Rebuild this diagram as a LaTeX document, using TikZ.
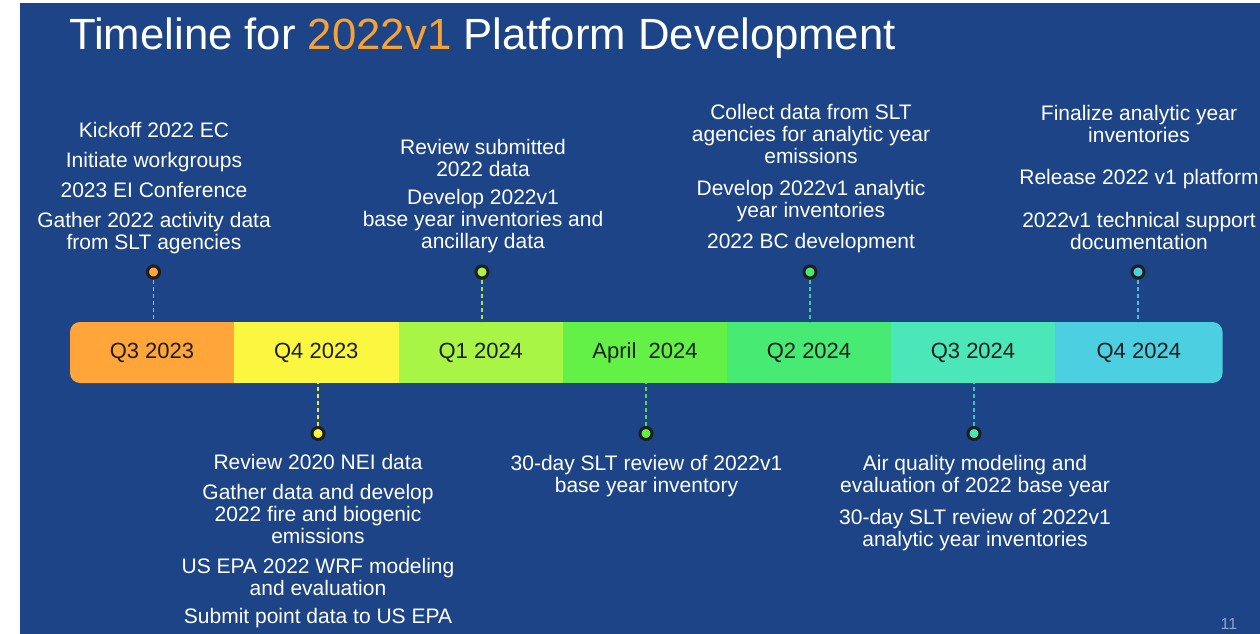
\documentclass[tikz,border=0pt]{standalone}
\usepackage{fontspec}
\setmainfont{Liberation Sans}
\definecolor{bg}{HTML}{1D4486}
\definecolor{torange}{HTML}{F7A234}
\definecolor{dark}{HTML}{1E1E1E}
\definecolor{cA}{HTML}{FFA53A}
\definecolor{cB}{HTML}{FBF740}
\definecolor{cC}{HTML}{A9F545}
\definecolor{cD}{HTML}{63F047}
\definecolor{cE}{HTML}{47EB73}
\definecolor{cF}{HTML}{4BE7B8}
\definecolor{cG}{HTML}{4BCFE1}
\definecolor{dA}{HTML}{F4A23C}
\definecolor{dB}{HTML}{EDE93C}
\definecolor{dC}{HTML}{A3E642}
\definecolor{dD}{HTML}{58D65A}
\definecolor{dE}{HTML}{3CC9A0}
\definecolor{dF}{HTML}{40C0C0}
\definecolor{dG}{HTML}{45C0D8}
\definecolor{pnum}{HTML}{8FA2C4}
\tikzset{
  seglabel/.style={minimum width=164.6pt, minimum height=61pt, inner sep=0pt,
    text=dark, font=\fontsize{22}{24}\selectfont},
  marker/.style={circle, draw=dark, line width=3pt, minimum size=12pt, inner sep=0pt},
  conn/.style={dashed, dash pattern=on 4pt off 3pt, line width=1.3pt},
  item/.style={text=white, align=center, inner sep=0pt, anchor=base,
    font=\fontsize{21}{22}\selectfont}
}
\begin{document}
\begin{tikzpicture}[x=1pt,y=-1pt]
\useasboundingbox (0,0) rectangle (1260,634);
\fill[white] (0,0) rectangle (1260,634);
\fill[bg] (20,3) rectangle (1260,634);

\node[anchor=base west, inner sep=0pt, text=white,
  font=\fontsize{43.7}{50}\selectfont] (title) at (69,49)
  {Timeline for \textcolor{torange}{2022v1} Platform Development};

% bar fills
\fill[cA, rounded corners=10pt] (70,322) rectangle (250,383);
\fill[cB] (234,322) rectangle (398.6,383);
\fill[cC] (398.6,322) rectangle (563,383);
\fill[cD] (563,322) rectangle (727,383);
\fill[cE] (727,322) rectangle (891,383);
\fill[cG, rounded corners=10pt] (1040,322) rectangle (1222.5,383);
\fill[cF] (891,322) rectangle (1055,383);

% segment labels
\node[seglabel] (s1) at (152,352.5) {Q3 2023};
\node[seglabel] (s2) at (316.3,352.5) {Q4 2023};
\node[seglabel] (s3) at (480.8,352.5) {Q1 2024};
\node[seglabel] (s4) at (645,352.5) {April\ \ 2024};
\node[seglabel] (s5) at (809,352.5) {Q2 2024};
\node[seglabel] (s6) at (973,352.5) {Q3 2024};
\node[seglabel] (s7) at (1138.8,352.5) {Q4 2024};

% markers
\node[marker, fill=cA] (m1) at (153.5,272) {};
\node[marker, fill=cB] (m2) at (318,433.5) {};
\node[marker, fill=cC] (m3) at (482,272) {};
\node[marker, fill=cD] (m4) at (646,433.5) {};
\node[marker, fill=cE] (m5) at (810,272) {};
\node[marker, fill=cF] (m6) at (974,433.5) {};
\node[marker, fill=cG] (m7) at (1138,272) {};

% connectors
\draw[conn, dA] (m1) -- (m1 |- s1.north);
\draw[conn, dB] (m2) -- (m2 |- s2.south);
\draw[conn, dC] (m3) -- (m3 |- s3.north);
\draw[conn, dD] (m4) -- (m4 |- s4.south);
\draw[conn, dE] (m5) -- (m5 |- s5.north);
\draw[conn, dF] (m6) -- (m6 |- s6.south);
\draw[conn, dG] (m7) -- (m7 |- s7.north);

% texts above (anchor = baseline of last line)
\node[item] (t1) at (154,249.5) {Kickoff 2022 EC\\[8pt]Initiate workgroups\\[8pt]2023 EI Conference\\[8pt]Gather 2022 activity data\\from SLT agencies};
\node[item] (t3) at (483,248.5) {Review submitted\\2022 data\\[6pt]Develop 2022v1\\base year inventories and\\ancillary data};
\node[item] (t5) at (811,248.5) {Collect data from SLT\\agencies for analytic year\\emissions\\[10pt]Develop 2022v1 analytic\\year inventories\\[9pt]2022 BC development};
\node[item] (t7) at (1139,249.5) {Finalize analytic year\\inventories\\[20pt]Release 2022 v1 platform\\[21pt]2022v1 technical support\\documentation};

% texts below
\node[item] (t2) at (318,623.5) {Review 2020 NEI data\\[8pt]Gather data and develop\\2022 fire and biogenic\\emissions\\[8pt]US EPA 2022 WRF modeling\\and evaluation\\[6pt]Submit point data to US EPA};
\node[item] (t4) at (646.5,492.5) {30-day SLT review of 2022v1\\base year inventory};
\node[item] (t6) at (975,546.5) {Air quality modeling and\\evaluation of 2022 base year\\[10pt]30-day SLT review of 2022v1\\analytic year inventories};

\node[text=pnum, inner sep=0pt, font=\fontsize{16}{17}\selectfont] (pg) at (1229,624) {11};
\end{tikzpicture}
\end{document}
